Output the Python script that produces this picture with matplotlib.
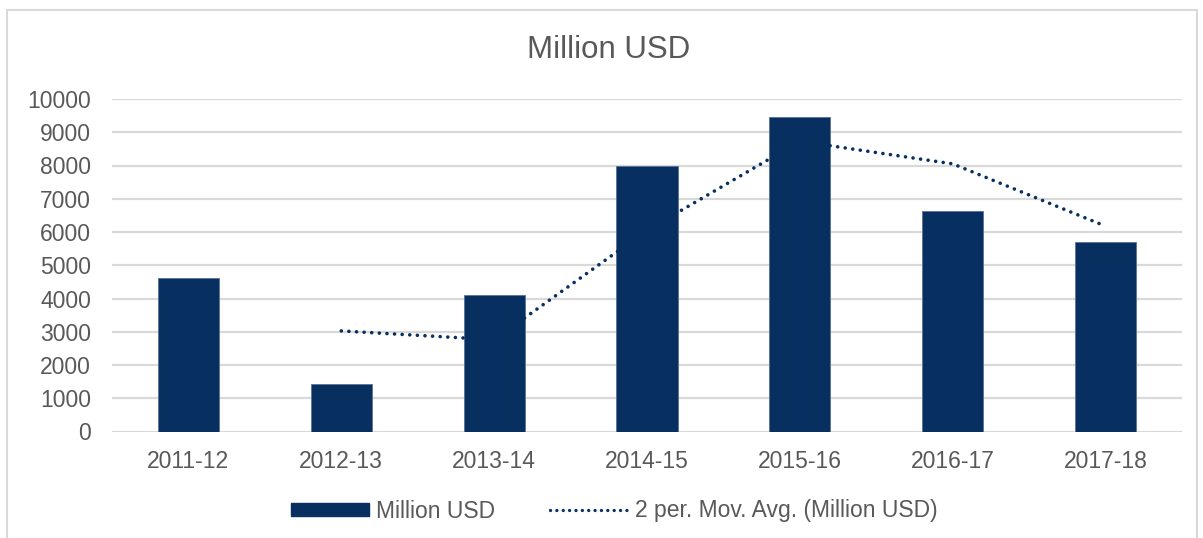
import matplotlib.pyplot as plt
import matplotlib.patches as patches
from matplotlib.lines import Line2D
import pandas as pd

plt.rcParams['font.family'] = ['Liberation Sans', 'DejaVu Sans']

# yearly values, million USD
years = ["2011-12", "2012-13", "2013-14", "2014-15", "2015-16", "2016-17", "2017-18"]
million_usd = [4630, 1420, 4100, 8000, 9460, 6640, 5710]

NAVY = "#072F5F"
GREY_TXT = "#595959"
GRID = "#D9D9D9"

# two-period moving average, as the trendline computes it
mov_avg = pd.Series(million_usd).rolling(2).mean()

fig = plt.figure(figsize=(12.03, 5.38), dpi=100)
ax = fig.add_axes([112 / 1203, 1 - 431.5 / 538, (1182 - 112) / 1203, (431.5 - 99) / 538])

x = list(range(len(years)))
ax.bar(x, million_usd, width=0.4, color=NAVY, edgecolor="#5A7394", linewidth=0.6, zorder=3)
ax.plot(x, mov_avg, color=NAVY, linewidth=2.6, linestyle=(0, (0.01, 2.1)),
        dash_capstyle="round", solid_capstyle="round", zorder=4)

ax.set_xlim(-0.5, len(years) - 0.5)
ax.set_ylim(0, 10000)
ax.set_yticks(range(0, 10001, 1000))
ax.set_xticks(x)
ax.set_xticklabels(years)
ax.tick_params(axis="both", length=0, labelsize=16.5, labelcolor=GREY_TXT)
ax.tick_params(axis="x", pad=13)
ax.tick_params(axis="y", pad=15)
ax.grid(axis="y", color=GRID, linewidth=1.6, zorder=0)
for s in ax.spines.values():
    s.set_visible(False)

# chart frame
frame = patches.Rectangle((7 / 1203, -0.2), (1197 - 7) / 1203, 1.2 - 10 / 538,
                          transform=fig.transFigure, fill=False,
                          edgecolor=GRID, linewidth=1.5)
fig.patches.append(frame)

fig.text(609 / 1203, 1 - 50 / 538, "Million USD", ha="center", va="center",
         fontsize=22.5, color=GREY_TXT)

handles = [
    patches.Patch(facecolor=NAVY, edgecolor=NAVY),
    Line2D([0], [0], color=NAVY, linewidth=2.4, linestyle=(0, (0.01, 1.9)),
           dash_capstyle="round"),
]
fig.legend(handles, ["Million USD", "2 per. Mov. Avg. (Million USD)"],
           loc="center", bbox_to_anchor=(614 / 1203, 1 - 511 / 538), ncol=2,
           frameon=False, fontsize=16.5, labelcolor=GREY_TXT,
           handlelength=3.4, handleheight=0.5, handletextpad=0.3, columnspacing=2.4)

fig.savefig("out.png", dpi=100)
